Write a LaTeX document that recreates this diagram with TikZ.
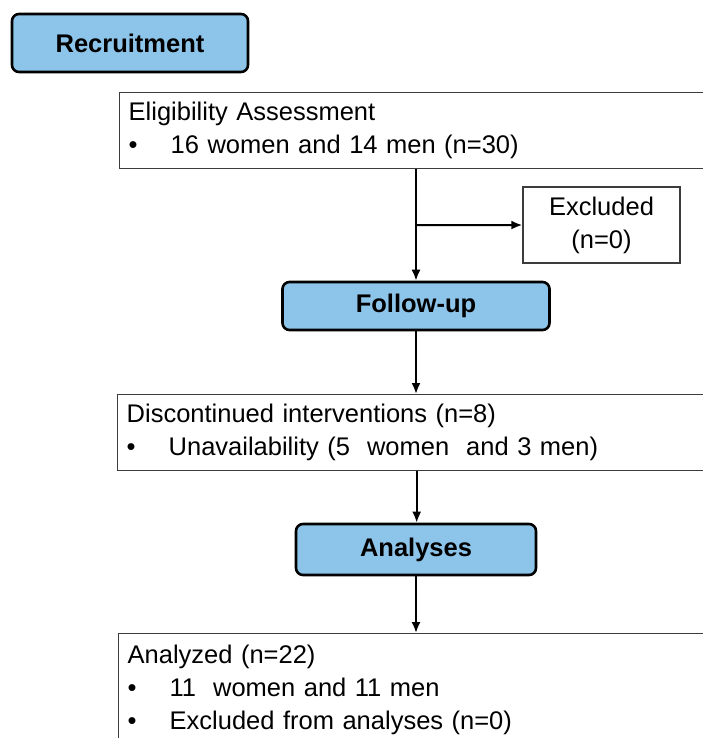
\documentclass[tikz,border=0pt]{standalone}
\usepackage{fontspec}
\setmainfont{Liberation Sans}
\usetikzlibrary{positioning,shapes,arrows.meta,calc}
\definecolor{stageblue}{RGB}{141,196,233}
\definecolor{boxline}{RGB}{60,60,60}

\begin{document}
\begin{tikzpicture}
    [x=1pt,y=-1pt,
     every node/.style={inner sep=0pt, font=\fontsize{25.5}{33}\selectfont},
     stage/.style={draw, line width=2.6pt, rounded corners=7pt, fill=stageblue, font=\fontsize{25.5}{33}\selectfont\bfseries},
     info/.style={draw=boxline, line width=1.4pt, align=left, inner xsep=9pt},
     arr/.style={-{Latex[length=11pt,width=9pt]}, line width=2pt}]
  \clip (0,0) rectangle (703,738);

  \node[stage, minimum width=236pt, minimum height=58pt] (recruit) at (130,43) {Recruitment};
  \node[info, anchor=north west, minimum height=76pt, text width=580pt] (elig) at (119,92)
    {Eligibility Assessment\\\makebox[42pt][l]{•}16 women and 14 men (n=30)};
  \node[info, align=center, minimum width=157pt, minimum height=76pt] (excl) at (601.5,225) {Excluded\\(n=0)};
  \node[stage, minimum width=267pt, minimum height=48pt] (follow) at (416,306) {Follow-up};
  \node[info, anchor=north west, minimum height=76pt, text width=580pt] (disc) at (117,394)
    {Discontinued interventions (n=8)\\\makebox[42pt][l]{•}Unavailability (5 \ women \ and 3 men)};
  \node[stage, minimum width=240pt, minimum height=51pt] (analyses) at (416,549.5) {Analyses};
  \node[info, anchor=north west, inner ysep=11pt, text width=580pt] (analyzed) at (118,633)
    {Analyzed (n=22)\\\makebox[42pt][l]{•}11 \ women and 11 men\\\makebox[42pt][l]{•}Excluded from analyses (n=0)};

  % branch to the excluded box
  \coordinate (branch) at ($(elig.south -| follow)!0.5!(follow.north)$);
  \draw[arr] (elig.south -| follow) -- (follow);
  \draw[arr] (branch) -- (excl);

  \foreach \from/\to in {follow/disc, disc/analyses, analyses/analyzed}
    \draw[arr] (\from) -- (\from |- \to.north);
\end{tikzpicture}
\end{document}
